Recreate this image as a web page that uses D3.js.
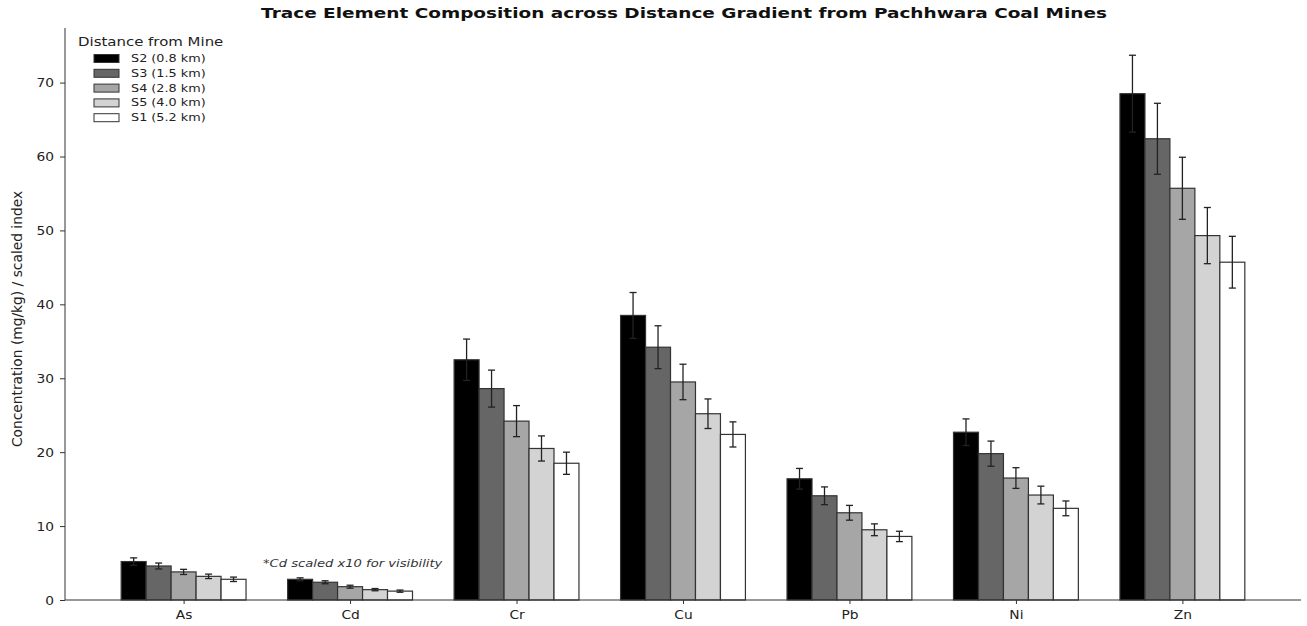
<!DOCTYPE html>
<html><head><meta charset="utf-8">
<script src="https://cdn.jsdelivr.net/npm/d3@7"></script>
<style>body{margin:0;background:#fff}svg text{font-family:"DejaVu Sans",sans-serif}</style>
</head><body><svg id="c" width="1307" height="626"></svg>
<script>
const elements = ["As","Cd","Cr","Cu","Pb","Ni","Zn"];
const seriesNames = ["S2 (0.8 km)","S3 (1.5 km)","S4 (2.8 km)","S5 (4.0 km)","S1 (5.2 km)"];
const seriesColors = ["#000000","#666666","#a6a6a6","#d3d3d3","#ffffff"];
const S2 = [5.2, 2.8, 32.5, 38.5, 16.4, 22.7, 68.5];
const S3 = [4.6, 2.4, 28.6, 34.2, 14.1, 19.8, 62.4];
const S4 = [3.8, 1.8, 24.2, 29.5, 11.8, 16.5, 55.7];
const S5 = [3.2, 1.4, 20.5, 25.2, 9.5, 14.2, 49.3];
const S1 = [2.8, 1.2, 18.5, 22.4, 8.6, 12.4, 45.7];
const E2 = [0.5, 0.2, 2.8, 3.1, 1.4, 1.8, 5.2];
const E3 = [0.4, 0.2, 2.5, 2.9, 1.2, 1.7, 4.8];
const E4 = [0.35, 0.2, 2.1, 2.4, 1.0, 1.4, 4.2];
const E5 = [0.3, 0.15, 1.7, 2.0, 0.8, 1.2, 3.8];
const E1 = [0.3, 0.15, 1.5, 1.7, 0.7, 1.0, 3.5];
const yTicks = [0,10,20,30,40,50,60,70];
const values = [S2,S3,S4,S5,S1];
const errors = [E2,E3,E4,E5,E1];

const svg = d3.select("#c");
const L=65, R=1301, T=28, B=600;
const barW = 0.15;
const x = d3.scaleLinear().domain([-0.7125, 6.7125]).range([L,R]);
const ymax = d3.max(values.flatMap((s,i)=>s.map((v,j)=>v+errors[i][j])))*1.05;
const y = d3.scaleLinear().domain([0, ymax]).range([B,T]);

// stretched text helper (reference text is horizontally wide)
function stxt(px, py, str, size, sx, anchor, extra){
  const t = svg.append("text").attr("transform",`translate(${px},${py}) scale(${sx},1)`)
    .attr("text-anchor",anchor||"start").attr("font-size",size).attr("fill","#222").text(str);
  if (extra) extra(t);
  return t;
}

const g = svg.append("g");
values.forEach((s,i)=>{
  const off = (i-2)*barW;
  g.selectAll(null).data(s).enter().append("rect")
    .attr("x",(d,j)=>x(j+off-barW/2)).attr("width",x(barW)-x(0))
    .attr("y",d=>y(d)).attr("height",d=>y(0)-y(d))
    .attr("fill",seriesColors[i]).attr("stroke","#333").attr("stroke-width",1.2);
});
values.forEach((s,i)=>{
  const off=(i-2)*barW;
  s.forEach((v,j)=>{
    const cx=x(j+off), e=errors[i][j];
    const eg=g.append("g").attr("stroke","#222").attr("stroke-width",1.3);
    eg.append("line").attr("x1",cx).attr("x2",cx).attr("y1",y(v-e)).attr("y2",y(v+e));
    [v-e,v+e].forEach(t=>eg.append("line").attr("x1",cx-3.5).attr("x2",cx+3.5).attr("y1",y(t)).attr("y2",y(t)));
  });
});

const ya = svg.append("g").attr("transform",`translate(${L},0)`)
  .call(d3.axisLeft(y).tickValues(yTicks).tickSize(5).tickFormat(d3.format("d")));
const xa = svg.append("g").attr("transform",`translate(0,${B})`)
  .call(d3.axisBottom(x).tickValues(d3.range(elements.length)).tickSize(4).tickFormat(i=>elements[i]));
[ya,xa].forEach(a=>{
  a.selectAll("line,path").attr("stroke","#333").attr("stroke-width",1);
});
ya.selectAll(".tick text").attr("x",null).attr("dy",null)
  .attr("transform","translate(-11,4) scale(1.2,1)").attr("font-size",11.5).attr("fill","#222").attr("font-family","DejaVu Sans");
xa.selectAll(".tick text").attr("y",null).attr("dy",null)
  .attr("transform","translate(0,19) scale(1.2,1)").attr("font-size",11.5).attr("fill","#222").attr("font-family","DejaVu Sans");
ya.select(".domain").attr("d",`M0,${B}V${T}`);
xa.select(".domain").attr("d",`M${L},0H${R}`);

stxt(684, 18, "Trace Element Composition across Distance Gradient from Pachhwara Coal Mines", 14, 1.32, "middle",
  t=>t.attr("font-weight","bold").attr("fill","#111"));
svg.append("text").attr("transform",`translate(22,319) rotate(-90)`).attr("text-anchor","middle")
  .attr("font-size",13.8).attr("fill","#222").text("Concentration (mg/kg) / scaled index");
stxt(263, 567, "*Cd scaled x10 for visibility", 10.5, 1.25, "start",
  t=>t.attr("font-style","italic").attr("fill","#333"));

stxt(78, 46, "Distance from Mine", 11.5, 1.3, "start");
seriesNames.forEach((n,i)=>{
  const yy = 58 + i*14.8;
  svg.append("rect").attr("x",94).attr("y",yy-3.5).attr("width",25).attr("height",8)
    .attr("fill",seriesColors[i]).attr("stroke","#333").attr("stroke-width",1);
  stxt(131, yy+4, n, 10.5, 1.22, "start");
});
</script></body></html>
